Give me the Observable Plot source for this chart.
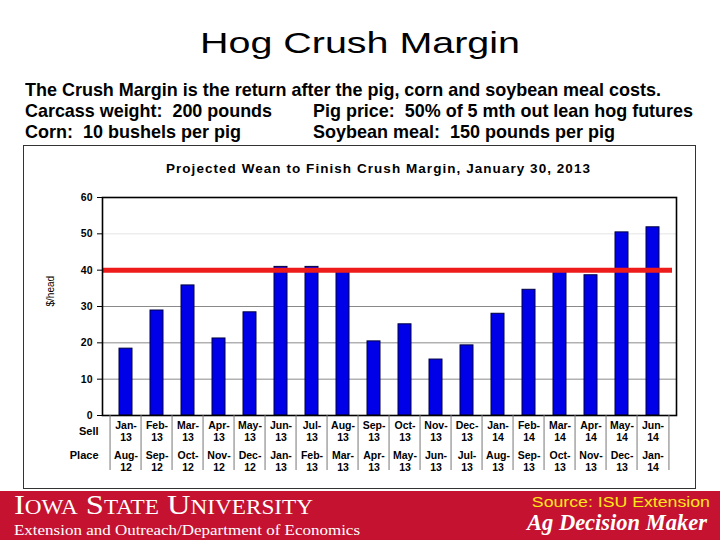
<!DOCTYPE html>
<html><head><meta charset="utf-8">
<script src="https://cdn.jsdelivr.net/npm/d3@7"></script>
<script src="https://cdn.jsdelivr.net/npm/@observablehq/plot@0.6"></script>
<style>
html,body{margin:0;padding:0;background:#fff;}
#page{position:relative;width:720px;height:540px;overflow:hidden;font-family:"Liberation Sans",Arial,sans-serif;color:#000;}
.t{position:absolute;white-space:pre;line-height:1;transform-origin:left center;}
.f{line-height:0.8;}
.b{font-weight:bold;font-size:18.5px;}
.serif{font-family:"Liberation Serif","Times New Roman",serif;}
#chart{position:absolute;left:24px;top:146px;}
#frame{position:absolute;left:23px;top:145px;width:673px;height:344px;box-sizing:border-box;border:1.5px solid #333;pointer-events:none;}
#footer{position:absolute;left:0;top:491px;width:720px;height:49px;background:#c41230;}
</style></head><body>
<div id="page">
  <div class="t" id="title" style="left:200px;top:27.9px;font-size:30px;">Hog Crush Margin</div>
  <div class="t b" id="l1" style="left:25px;top:81px;">The Crush Margin is the return after the pig, corn and soybean meal costs.</div>
  <div class="t b" id="l2a" style="left:25px;top:102px;">Carcass weight:  200 pounds</div>
  <div class="t b" id="l2b" style="left:313px;top:102px;">Pig price:  50% of 5 mth out lean hog futures</div>
  <div class="t b" id="l3a" style="left:25px;top:123px;">Corn:  10 bushels per pig</div>
  <div class="t b" id="l3b" style="left:313px;top:123px;">Soybean meal:  150 pounds per pig</div>
  <div id="chart"></div>
  <div id="frame"></div>
  <div id="footer"></div>
  <div class="t f serif" id="isu" style="left:14px;top:494.4px;font-size:28px;font-variant:small-caps;color:#fff;">Iowa State University</div>
  <div class="t f serif" id="ext" style="left:14px;top:523.9px;font-size:15px;color:#fff;">Extension and Outreach/Department of Economics</div>
  <div class="t f" id="src" style="right:10px;top:496.5px;font-size:14px;color:#ffe81a;transform-origin:right center;">Source: ISU Extension</div>
  <div class="t f serif" id="adm" style="right:13px;top:514px;font-size:23px;font-weight:bold;font-style:italic;color:#fff;transform-origin:right center;">Ag Decision Maker</div>
</div>
<script>
// ---- data ----
const sellMonths = ["Jan-13","Feb-13","Mar-13","Apr-13","May-13","Jun-13","Jul-13","Aug-13","Sep-13","Oct-13","Nov-13","Dec-13","Jan-14","Feb-14","Mar-14","Apr-14","May-14","Jun-14"];
const placeMonths = ["Aug-12","Sep-12","Oct-12","Nov-12","Dec-12","Jan-13","Feb-13","Mar-13","Apr-13","May-13","Jun-13","Jul-13","Aug-13","Sep-13","Oct-13","Nov-13","Dec-13","Jan-14"];
const crushMargin = [18.4, 28.9, 35.8, 21.2, 28.4, 40.9, 40.9, 39.5, 20.4, 25.1, 15.4, 19.3, 28.0, 34.6, 39.6, 38.6, 50.4, 51.8];
const yTicks = [0, 10, 20, 30, 40, 50, 60];
const gridLines = [10, 20, 30];
const faintGridLines = [50];
const benchmark = [40];
const chartTitle = "Projected Wean to Finish Crush Margin, January 30, 2013";
const yLabel = "$/head";
const rowLabels = ["Sell", "Place"];

const data = sellMonths.map((s, i) => ({sell: s, place: placeMonths[i], margin: crushMargin[i]}));

const W = 671, H = 342, ML = 78, MR = 19, MT = 51, MB = 73;
const step = (W - ML - MR) / sellMonths.length;
const split = s => s.replace("-", "-\n");

const plot = Plot.plot({
  width: W, height: H,
  marginLeft: ML, marginRight: MR, marginTop: MT, marginBottom: MB,
  style: {fontFamily: "'Liberation Sans', Arial, sans-serif", background: "white", overflow: "visible"},
  x: {domain: sellMonths, paddingInner: 0.58, paddingOuter: 0.29, axis: null},
  y: {domain: [0, 60], axis: null},
  marks: [
    Plot.ruleY(gridLines, {stroke: "#8a8a8a", strokeWidth: 1}),
    Plot.ruleY(faintGridLines, {stroke: "#e4e4e4", strokeWidth: 1}),
    Plot.barY(data, {x: "sell", y: "margin", fill: "#0000e8", stroke: "#000040", strokeWidth: 1}),
    Plot.ruleY(benchmark, {stroke: "#ee1b1b", strokeWidth: 5, insetRight: 4}),
    Plot.frame({stroke: "black", strokeWidth: 1.6}),
    Plot.axisY({ticks: yTicks, tickSize: 5, tickPadding: 5, fontSize: 10.5, fontWeight: "bold", label: null}),
    Plot.text([yLabel], {text: d => d, frameAnchor: "left", dx: -52, rotate: -90, fontSize: 10}),
    // category separators under the axis
    Plot.ruleX(sellMonths, {x: d => d, y1: 0, y2: 0, insetBottom: -55, dx: -step / 2, stroke: "#777"}),
    Plot.ruleX(sellMonths.slice(-1), {x: d => d, y1: 0, y2: 0, insetBottom: -55, dx: step / 2, stroke: "#777"}),
    // two-row tick labels
    Plot.text(data, {x: "sell", frameAnchor: "bottom", text: d => split(d.sell), lineAnchor: "top", lineHeight: 1.15, dy: 5.2, fontSize: 10.5, fontWeight: "bold"}),
    Plot.text(data, {x: "sell", frameAnchor: "bottom", text: d => split(d.place), lineAnchor: "top", lineHeight: 1.15, dy: 34.6, fontSize: 10.5, fontWeight: "bold"}),
    Plot.text([rowLabels[0]], {text: d => d, frameAnchor: "bottom-left", textAnchor: "end", dx: -4, dy: 19.5, fontSize: 11, fontWeight: "bold"}),
    Plot.text([rowLabels[1]], {text: d => d, frameAnchor: "bottom-left", textAnchor: "end", dx: -4, dy: 43.5, fontSize: 11, fontWeight: "bold"}),
    Plot.text([chartTitle], {text: d => d, frameAnchor: "top", dx: -11, dy: -29, lineAnchor: "middle", fontSize: 13.5, fontWeight: "bold"})
  ]
});
document.getElementById("chart").appendChild(plot);
d3.select(plot).selectAll("text").filter(function () { return this.textContent === chartTitle; })
  .style("letter-spacing", "1.05px");

// fit HTML text widths to the reference
function fit(id, target) {
  const el = document.getElementById(id);
  const w = el.getBoundingClientRect().width;
  el.style.transform = `scaleX(${target / w})`;
}
fit("title", 320);
fit("l1", 636);
fit("l2a", 247);
fit("l2b", 380);
fit("l3a", 216);
fit("l3b", 302);
fit("isu", 299);
fit("ext", 346);
fit("src", 178);
fit("adm", 180);
</script>
</body></html>
